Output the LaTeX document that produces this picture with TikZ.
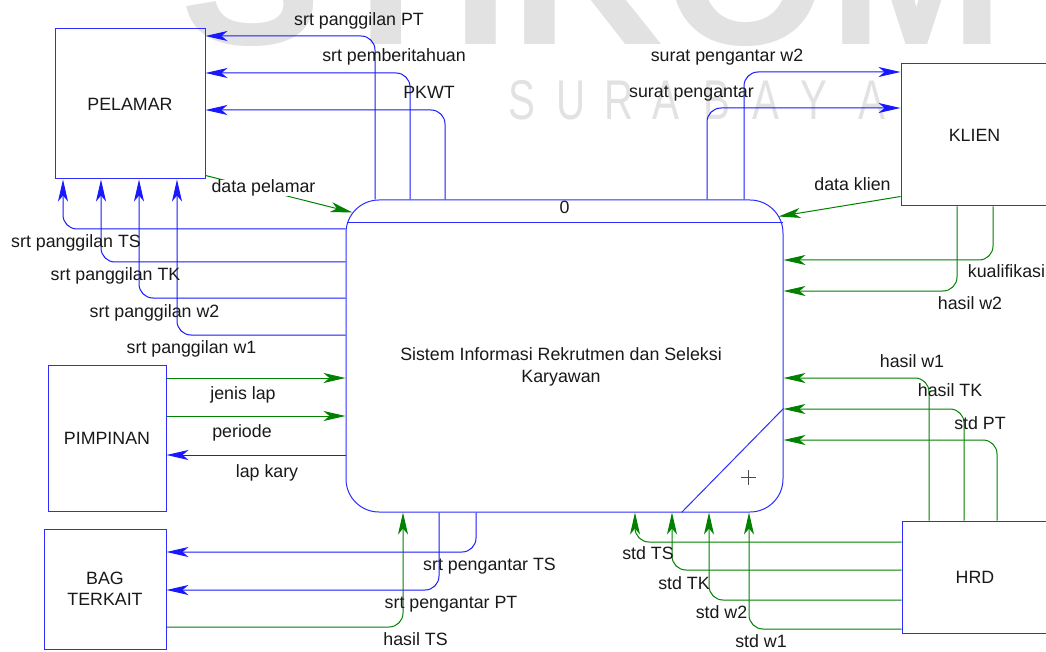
\documentclass[tikz,border=0pt]{standalone}
\usepackage{fontspec}
\usepackage{graphicx}
\setmainfont{Liberation Sans}
\usetikzlibrary{arrows.meta,calc}
\definecolor{boxblue}{RGB}{45,45,255}
\definecolor{flowblue}{RGB}{25,25,255}
\definecolor{flowgreen}{RGB}{0,130,0}
\definecolor{wmgray}{RGB}{226,226,226}
\definecolor{txt}{RGB}{25,25,25}
\begin{document}
\begin{tikzpicture}[x=1pt,y=-1pt,
  lbl/.style={inner sep=0pt, font=\fontsize{17.8}{21}\selectfont, text height=12.7pt, text depth=3.7pt, text=txt},
  whitelbl/.style={lbl, fill=white},
  ent/.style={draw=boxblue, line width=1pt, inner sep=0pt, font=\fontsize{17.8}{21}\selectfont, align=center, text=txt},
  flowb/.style={draw=flowblue, line width=1pt, rounded corners=14pt, -{Stealth[length=22pt,width=10pt,inset=6pt]}, fill=none},
  flowg/.style={draw=flowgreen, line width=1pt, rounded corners=14pt, -{Stealth[length=22pt,width=10pt,inset=6pt]}, fill=none},
  wmbig/.style={anchor=base west, inner sep=0pt, text=wmgray, font=\fontsize{212}{212}\selectfont\bfseries},
  wmsmall/.style={anchor=base, inner sep=0pt, text=wmgray, font=\fontsize{56}{56}\selectfont}]
\useasboundingbox (0,0) rectangle (1046,652);
\fill[white] (0,0) rectangle (1046,652);

% watermark
\node[wmbig] (wmA) at (180,45) {STIKOM};
\foreach \c/\x [count=\i] in {S/522,U/571,R/619,A/666,B/717,A/766,Y/814,A/872}
  \node[wmsmall] (wmS\i) at (\x,120) {\scalebox{0.72}[1]{\c}};

% entities
\node[ent, minimum width=150pt, minimum height=150pt] (pel) at (130,104) {PELAMAR};
\node[ent, minimum width=147pt, minimum height=142pt] (klien) at (974.5,135) {KLIEN};
\node[ent, minimum width=146pt, minimum height=112pt] (hrd) at (975,577) {HRD};
\node[ent, minimum width=118pt, minimum height=146pt] (pim) at (107,438) {PIMPINAN};
\node[ent, minimum width=122pt, minimum height=120pt] (bag) at (105,589) {BAG\\TERKAIT};

% process
\node[draw=boxblue, line width=1pt, rounded corners=33pt, minimum width=437pt, minimum height=312pt, inner sep=0pt] (proc) at (564.5,356) {};
\draw[draw=boxblue, line width=1pt] ($(proc.north west)+(1,23)$) -- ($(proc.north east)+(-1,23)$);
\node[lbl] (pnum) at ($(proc.north)+(0,10)$) {0};
\node[inner sep=0pt, font=\fontsize{17.8}{22}\selectfont, align=center, text=txt] (ptext) at (561,367) {Sistem Informasi Rekrutmen dan Seleksi\\Karyawan};
\draw[draw=boxblue, line width=1pt] ($(proc.south east)+(-102,0)$) -- ($(proc.south east)+(0,-104)$);
\draw[black!70, line width=1pt] (741,477) -- (756,477) (748.5,470) -- (748.5,485);

% flows to PELAMAR (top)
\draw[flowb] (proc.north -| 375,0) |- (pel.east |- 0,36);
\draw[flowb] (proc.north -| 410,0) |- (pel.east |- 0,73);
\draw[flowb] (proc.north -| 445,0) |- (pel.east |- 0,110);
% flows to PELAMAR (bottom)
\draw[flowb] (proc.west |- 0,229) -| (pel.south -| 63,0);
\draw[flowb] (proc.west |- 0,262) -| (pel.south -| 101,0);
\draw[flowb] (proc.west |- 0,298) -| (pel.south -| 139,0);
\draw[flowb] (proc.west |- 0,335) -| (pel.south -| 177,0);
% data pelamar
\draw[flowg] ($(pel.south east)+(0,-4)$) -- ($(proc.north west)+(7,13)$);

% KLIEN
\draw[flowb] (proc.north -| 707,0) |- (klien.west |- 0,108);
\draw[flowb] (proc.north -| 744,0) |- (klien.west |- 0,72);
\draw[flowg] ($(klien.south west)+(0,-10)$) -- ($(proc.north east)+(-5,17)$);
\draw[flowg] (klien.south -| 993,0) |- (proc.east |- 0,260);
\draw[flowg] (klien.south -| 957,0) |- (proc.east |- 0,291);

% HRD
\draw[flowg] (hrd.north -| 929,0) |- (proc.east |- 0,378);
\draw[flowg] (hrd.north -| 964,0) |- (proc.east |- 0,409);
\draw[flowg] (hrd.north -| 997,0) |- (proc.east |- 0,440);
\draw[flowg] (hrd.west |- 0,542) -| (proc.south -| 635,0);
\draw[flowg] (hrd.west |- 0,570) -| (proc.south -| 672,0);
\draw[flowg] (hrd.west |- 0,600) -| (proc.south -| 709,0);
\draw[flowg] (hrd.west |- 0,629) -| (proc.south -| 749,0);

% PIMPINAN
\draw[flowg] (pim.east |- 0,378) -- (proc.west |- 0,378);
\draw[flowg] (pim.east |- 0,416) -- (proc.west |- 0,416);
\draw[flowb] (proc.west |- 0,455) -- (pim.east |- 0,455);

% BAG TERKAIT
\draw[flowb] (proc.south -| 476,0) |- (bag.east |- 0,552);
\draw[flowb] (proc.south -| 439,0) |- (bag.east |- 0,590);
\draw[flowg] (bag.east |- 0,627) -| (proc.south -| 403,0);

% labels
\node[lbl] (l1) at (359,21) {srt panggilan PT};
\node[lbl] (l2) at (394,57) {srt pemberitahuan};
\node[lbl] (l3) at (429,94) {PKWT};
\node[whitelbl] (l4) at (263.5,188) {data pelamar};
\node[lbl] (l5) at (727,57) {surat pengantar w2};
\node[lbl] (l6) at (691.5,93) {surat pengantar};
\node[whitelbl] (l7) at (852.5,186) {data klien};
\node[lbl] (l8) at (1006.5,273) {kualifikasi};
\node[lbl] (l9) at (970,305) {hasil w2};
\node[lbl] (l10) at (912,363) {hasil w1};
\node[lbl] (l11) at (950,392) {hasil TK};
\node[lbl] (l12) at (980,425) {std PT};
\node[lbl] (l13) at (76,243) {srt panggilan TS};
\node[lbl] (l14) at (115.5,276) {srt panggilan TK};
\node[lbl] (l15) at (154.5,313) {srt panggilan w2};
\node[lbl] (l16) at (191.5,349) {srt panggilan w1};
\node[lbl] (l17) at (243,395) {jenis lap};
\node[lbl] (l18) at (242,433) {periode};
\node[lbl] (l19) at (267,473) {lap kary};
\node[lbl] (l20) at (489.5,566) {srt pengantar TS};
\node[lbl] (l21) at (451,604) {srt pengantar PT};
\node[lbl] (l22) at (415.5,641) {hasil TS};
\node[lbl] (l23) at (648,555) {std TS};
\node[lbl] (l24) at (684,585) {std TK};
\node[lbl] (l25) at (721.5,614) {std w2};
\node[lbl] (l26) at (761,643) {std w1};
\end{tikzpicture}
\end{document}
